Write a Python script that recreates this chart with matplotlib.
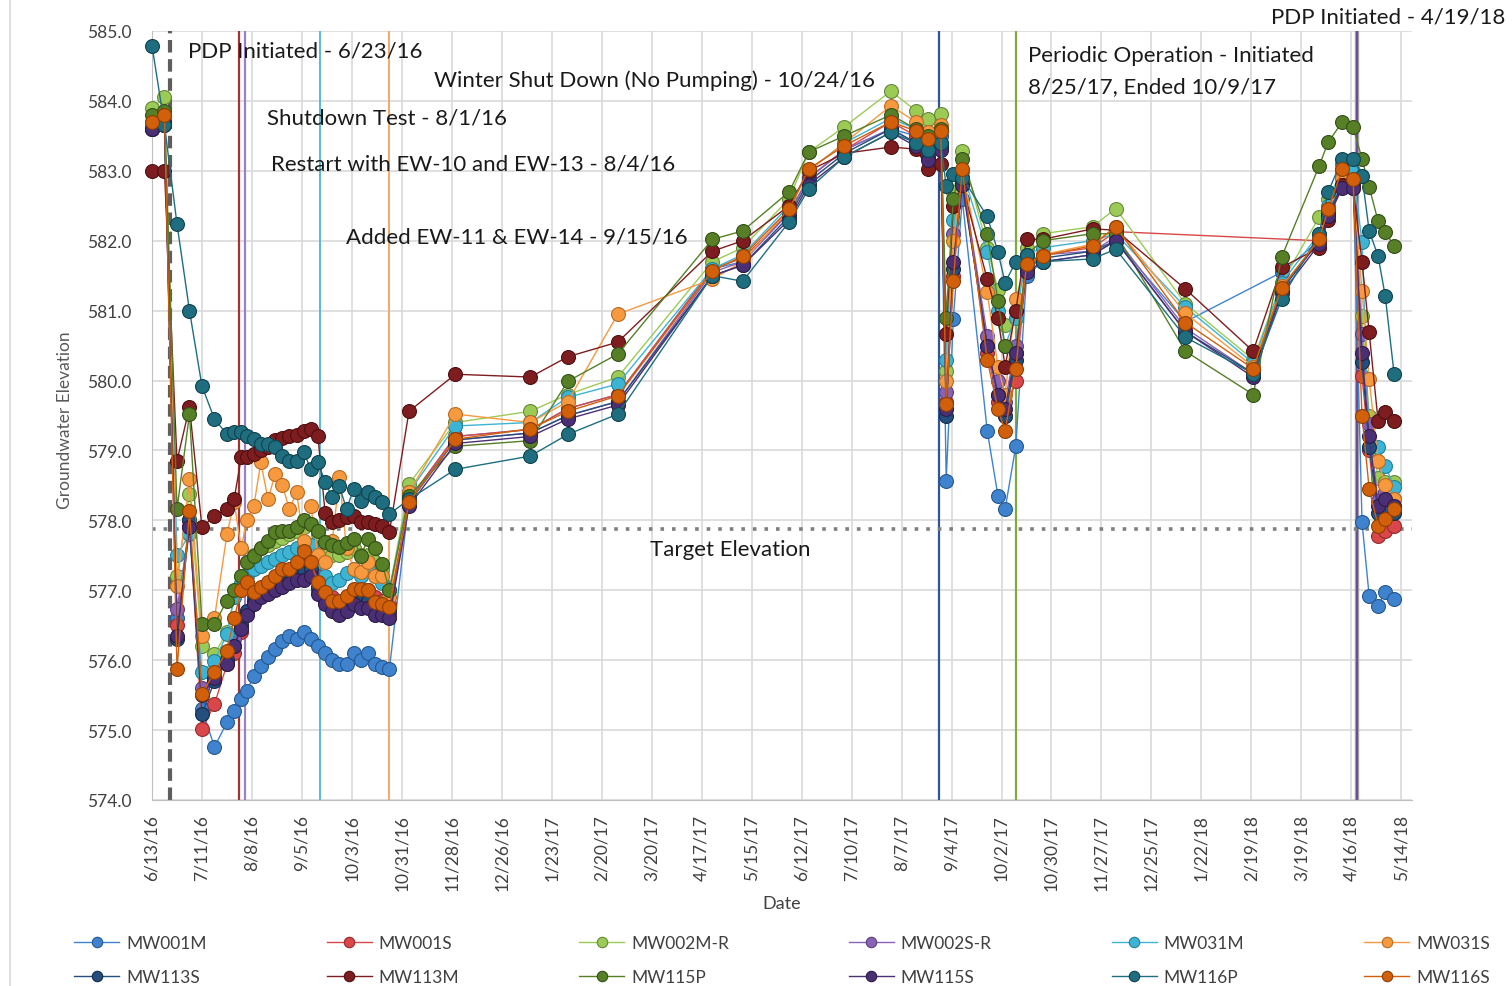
import numpy as np
import pandas as pd
import matplotlib
matplotlib.use("Agg")
import matplotlib.pyplot as plt
from matplotlib.lines import Line2D

nan = np.nan
plt.rcParams["font.family"] = ["Lato", "DejaVu Sans"]

# =====================================
# DATA
# =====================================

dates = pd.to_datetime([
    # summer / fall 2016
    "2016-06-13", "2016-06-20", "2016-06-27", "2016-07-04", "2016-07-11", "2016-07-18",
    "2016-07-25", "2016-07-29", "2016-08-02", "2016-08-05", "2016-08-09", "2016-08-13",
    "2016-08-17", "2016-08-21", "2016-08-25", "2016-08-29", "2016-09-02", "2016-09-06",
    "2016-09-10", "2016-09-14", "2016-09-18", "2016-09-22", "2016-09-26", "2016-09-30",
    "2016-10-04", "2016-10-08", "2016-10-12", "2016-10-16", "2016-10-20", "2016-10-24",
    # winter 2016 - summer 2017
    "2016-11-04", "2016-11-30", "2017-01-11", "2017-02-01", "2017-03-01", "2017-04-23",
    "2017-05-10", "2017-06-05", "2017-06-16", "2017-07-06", "2017-08-01", "2017-08-15",
    "2017-08-22", "2017-08-29",
    # periodic operation 2017
    "2017-09-01", "2017-09-05", "2017-09-10", "2017-09-24", "2017-09-30", "2017-10-04",
    "2017-10-10", "2017-10-16", "2017-10-25",
    # winter 2017-2018
    "2017-11-22", "2017-12-05", "2018-01-13", "2018-02-20", "2018-03-08",
    # spring 2018
    "2018-03-29", "2018-04-03", "2018-04-11", "2018-04-17", "2018-04-22", "2018-04-26",
    "2018-05-01", "2018-05-05", "2018-05-10",
])

mw001m = [
    583.6, 583.7, 576.6, 577.9, 575.3, 574.76, 575.11, 575.27, 575.45, 575.56, 575.77, 575.92,
    576.04, 576.16, 576.27, 576.35, 576.3, 576.4, 576.3, 576.2, 576.1, 576.0, 575.95, 575.95,
    576.1, 576.0, 576.1, 575.95, 575.9, 575.87,
    578.3, 579.2, 579.3, 579.6, 579.8, 581.6, 581.7, 582.4, 582.9, 583.3, 583.6, 583.5, 583.4, 583.5,
    578.57, 580.88, 582.6, 579.28, 578.35, 578.16, 579.06, 581.5, 581.7,
    581.8, 582.0, 580.84, nan, 581.55,
    582.0, 582.4, 582.9, 582.9, 577.97, 576.92, 576.78, 576.98, 576.88,
]
mw001s = [
    583.6, 583.7, 576.5, 578.0, 575.01, 575.37, 575.94, 576.1, 576.4, 576.7, 576.9, 577.0,
    577.05, 577.1, 577.2, 577.25, 577.3, 577.35, 577.4, 577.2, 577.0, 576.9, 576.85, 576.9,
    577.0, 577.0, 577.0, 576.9, 576.85, 576.8,
    578.3, 579.2, 579.3, 579.6, 579.8, 581.6, 581.75, 582.4, 582.9, 583.3, 583.7, 583.5, 583.3, 583.4,
    579.7, 581.5, 582.9, 580.4, 579.7, 579.5, 580.0, 581.6, 581.8,
    581.9, 582.13, nan, nan, nan,
    582.0, 582.4, 582.8, 582.8, 580.06, 579.0, 577.77, 577.85, 577.92,
]
mw002m_r = [
    583.9, 584.05, 577.2, 578.38, 576.2, 576.09, 576.4, 576.9, 577.2, 577.4, 577.5, 577.6,
    577.65, 577.7, 577.75, 577.8, 577.85, 577.9, 577.95, 577.8, 577.6, 577.5, 577.5, 577.55,
    577.6, 577.5, 577.5, 577.4, 577.3, 577.0,
    578.52, 579.4, 579.56, 579.8, 580.05, 581.7, 581.9, 582.6, 583.27, 583.63, 584.14, 583.86, 583.74, 583.81,
    580.14, 582.7, 583.28, 581.9, 581.3, 580.8, 581.0, 581.9, 582.1,
    582.2, 582.46, 581.1, 580.3, 581.4,
    582.34, 582.6, 583.0, 582.9, 580.93, 579.5, 578.6, 578.55, 578.55,
]
mw002s_r = [
    583.65, 583.7, 576.73, 577.9, 575.6, 575.8, 576.0, 576.3, 576.5, 576.7, 576.85, 576.95,
    577.0, 577.05, 577.1, 577.15, 577.2, 577.2, 577.25, 577.0, 576.85, 576.75, 576.7, 576.75,
    576.85, 576.8, 576.8, 576.7, 576.7, 576.65,
    578.3, 579.15, 579.25, 579.5, 579.7, 581.55, 581.7, 582.4, 582.9, 583.3, 583.6, 583.4, 583.2, 583.35,
    579.83, 582.1, 582.9, 580.64, 580.0, 579.7, 580.5, 581.6, 581.8,
    581.85, 582.05, 580.75, 580.1, 581.3,
    582.0, 582.4, 582.8, 582.8, 580.66, 579.38, 578.27, 578.4, 578.3,
]
mw031m = [
    583.6, 583.65, 577.5, 577.8, 575.83, 575.99, 576.37, 576.9, 577.1, 577.2, 577.3, 577.35,
    577.4, 577.45, 577.5, 577.55, 577.6, 577.6, 577.65, 577.4, 577.2, 577.1, 577.15, 577.25,
    577.3, 577.2, 577.3, 577.2, 577.1, 577.0,
    578.4, 579.35, 579.4, 579.76, 579.95, 581.6, 581.8, 582.5, 583.0, 583.4, 583.75, 583.6, 583.5, 583.6,
    580.3, 582.3, 583.0, 581.84, 581.0, 580.5, 580.9, 581.8, 581.9,
    582.0, 582.1, 581.05, 580.25, 581.4,
    582.1, 582.5, 583.1, 583.0, 581.98, 579.05, 579.05, 578.78, 578.48,
]
mw031s = [
    583.7, 583.75, 577.06, 578.59, 576.34, 576.6, 577.8, 578.26, 577.6, 578.0, 578.2, 578.83,
    578.3, 578.66, 578.5, 578.16, 578.4, 577.7, 578.2, 577.5, 577.4, 577.7, 578.62, 577.6,
    577.3, 577.26, 577.4, 577.2, 577.2, 576.9,
    578.4, 579.52, 579.4, 579.7, 580.95, 581.45, 581.7, 582.45, 583.0, 583.4, 583.93, 583.7, 583.55, 583.65,
    580.0, 582.0, 583.0, 581.26, 580.2, 579.8, 581.17, 581.7, 581.8,
    581.95, 582.2, 580.96, 580.2, 581.35,
    582.0, 582.45, 582.9, 582.8, 581.28, 580.02, 578.85, 578.5, 578.3,
]
mw113s = [
    583.6, 583.7, 576.3, 578.0, 575.23, 575.7, 576.0, 576.2, 576.5, 576.7, 576.85, 576.95,
    577.0, 577.05, 577.15, 577.2, 577.25, 577.25, 577.3, 577.05, 576.9, 576.8, 576.75, 576.8,
    576.9, 576.85, 576.85, 576.75, 576.7, 576.7,
    578.25, 579.15, 579.25, 579.5, 579.7, 581.5, 581.65, 582.35, 582.85, 583.25, 583.6, 583.4, 583.2, 583.35,
    579.5, 581.6, 582.85, 580.5, 579.8, 579.5, 580.3, 581.6, 581.75,
    581.85, 582.0, 580.7, 580.1, 581.3,
    582.0, 582.4, 582.8, 582.8, 580.26, 579.05, 578.1, 578.2, 578.1,
]
mw113m = [
    583.0, 583.0, 578.85, 579.62, 577.9, 578.06, 578.16, 578.3, 578.9, 578.9, 578.95, 579.0,
    579.05, 579.15, 579.18, 579.2, 579.22, 579.28, 579.3, 579.2, 578.1, 577.97, 578.0, 578.05,
    578.06, 577.97, 577.97, 577.95, 577.92, 577.83,
    579.56, 580.09, 580.05, 580.34, 580.55, 581.85, 582.0, 582.5, 583.0, 583.25, 583.34, 583.31, 583.03, 583.1,
    580.67, 582.5, 582.8, 581.45, 580.9, 580.2, 581.0, 582.02, 582.02,
    582.17, 582.15, 581.31, 580.42, 581.62,
    581.9, 582.3, 582.8, 582.75, 581.7, 580.69, 579.42, 579.55, 579.42,
]
mw115p = [
    583.8, 583.85, 578.16, 579.52, 576.52, 576.52, 576.85, 577.0, 577.2, 577.4, 577.49, 577.6,
    577.7, 577.83, 577.85, 577.85, 577.9, 578.0, 577.95, 577.85, 577.69, 577.65, 577.62, 577.68,
    577.73, 577.49, 577.73, 577.6, 577.38, 577.0,
    578.35, 579.06, 579.14, 579.99, 580.38, 582.02, 582.14, 582.7, 583.27, 583.5, 583.8, 583.6, 583.5, 583.6,
    580.9, 582.6, 583.17, 582.1, 581.14, 580.5, 580.4, 581.8, 582.0,
    582.1, 582.1, 580.42, 579.8, 581.77,
    583.07, 583.41, 583.7, 583.63, 583.17, 582.77, 582.28, 582.12, 581.93,
]
mw115s = [
    583.6, 583.65, 576.34, 577.9, 575.5, 575.75, 575.95, 576.2, 576.45, 576.65, 576.8, 576.9,
    576.95, 577.0, 577.05, 577.1, 577.15, 577.15, 577.2, 576.95, 576.8, 576.7, 576.65, 576.7,
    576.8, 576.75, 576.75, 576.65, 576.65, 576.6,
    578.2, 579.1, 579.2, 579.45, 579.65, 581.5, 581.65, 582.3, 582.8, 583.2, 583.55, 583.35, 583.15, 583.3,
    579.6, 581.7, 582.8, 580.5, 579.8, 579.6, 580.4, 581.55, 581.7,
    581.8, 582.0, 580.7, 580.05, 581.25,
    581.95, 582.35, 582.75, 582.75, 580.4, 579.2, 578.2, 578.3, 578.2,
]
mw116p = [
    584.79, 583.65, 582.24, 581.0, 579.92, 579.45, 579.23, 579.26, 579.26, 579.2, 579.16, 579.09,
    579.09, 579.05, 578.92, 578.85, 578.85, 578.98, 578.73, 578.83, 578.55, 578.33, 578.49, 578.16,
    578.45, 578.28, 578.4, 578.33, 578.26, 578.09,
    578.3, 578.73, 578.92, 579.23, 579.52, 581.5, 581.42, 582.27, 582.74, 583.2, 583.55, 583.4, 583.3, 583.4,
    582.78, 582.95, 582.9, 582.35, 581.84, 581.4, 581.7, 581.8, 581.7,
    581.74, 581.88, 580.62, 580.1, 581.17,
    582.1, 582.7, 583.17, 583.17, 582.93, 582.14, 581.78, 581.21, 580.09,
]
mw116s = [
    583.7, 583.8, 575.87, 578.13, 575.52, 575.83, 576.13, 576.6, 577.0, 577.12, 576.97, 577.05,
    577.12, 577.2, 577.3, 577.3, 577.4, 577.56, 577.4, 577.12, 576.97, 576.85, 576.85, 576.92,
    577.02, 577.02, 577.0, 576.83, 576.8, 576.76,
    578.26, 579.16, 579.31, 579.56, 579.78, 581.57, 581.78, 582.45, 583.03, 583.36, 583.7, 583.57, 583.45, 583.57,
    579.66, 581.42, 583.03, 580.3, 579.59, 579.28, 580.16, 581.67, 581.78,
    581.93, 582.2, 580.83, 580.17, 581.33,
    582.02, 582.45, 583.03, 582.88, 579.49, 578.45, 577.92, 578.02, 578.16,
]

wells = ["MW001M", "MW001S", "MW002M-R", "MW002S-R", "MW031M", "MW031S",
         "MW113S", "MW113M", "MW115P", "MW115S", "MW116P", "MW116S"]
levels = [mw001m, mw001s, mw002m_r, mw002s_r, mw031m, mw031s,
          mw113s, mw113m, mw115p, mw115s, mw116p, mw116s]
colors = ["#3F83CF", "#D9474A", "#9CCB55", "#8A62B5", "#3DB4D3", "#F6993F",
          "#234E7E", "#7E1D1F", "#567F26", "#4B2F75", "#1E6E80", "#D2600A"]
edges = ["#25588F", "#952A2C", "#66883A", "#5C3F7E", "#25809A", "#B76C25",
         "#122D4C", "#4E0F10", "#34501A", "#2D1B48", "#10424E", "#8C3F05"]

target_elev = 577.88

# =====================================
# CHART
# =====================================

fig = plt.figure(figsize=(15.12, 9.87), dpi=100)
ax = fig.add_axes([152 / 1512, 1 - 801 / 987, 1260 / 1512, 769 / 987])

# event lines
ax.axvline(pd.Timestamp("2016-06-23"), color="#5E5E5E", ls=(0, (3, 1.6)), lw=3, zorder=1.5)
ax.axvline(pd.Timestamp("2016-08-01"), color="#A23333", lw=1.6, zorder=1.5)
ax.axvline(pd.Timestamp("2016-08-04"), color="#9B80C2", lw=1.6, zorder=1.5)
ax.axvline(pd.Timestamp("2016-09-15"), color="#5CB9D0", lw=1.4, zorder=1.5)
ax.axvline(pd.Timestamp("2016-10-24"), color="#F4A867", lw=1.4, zorder=1.5)
ax.axvline(pd.Timestamp("2017-08-28"), color="#2F5597", lw=1.6, zorder=1.5)
ax.axvline(pd.Timestamp("2017-10-10"), color="#7FAA3C", lw=1.6, zorder=1.5)
ax.axvline(pd.Timestamp("2018-04-19"), color="#A9A9A9", lw=3.2, zorder=1.5)
ax.axvline(pd.Timestamp("2018-04-19"), color="#6A4F91", lw=1.6, zorder=1.55)

ax.axhline(target_elev, color="#7F7F7F", ls=(0, (1, 2.2)), lw=2.6, zorder=1.6)

handles = []
for name, vals, c, ec in zip(wells, levels, colors, edges):
    s = pd.Series(vals, index=dates).dropna()
    h, = ax.plot(s.index, s.values, "-o", color=c, mfc=c, mec=ec, mew=0.8,
                 ms=10, lw=1.0, label=name, clip_on=False, zorder=3)
    handles.append(h)

ax.set_xlim(pd.Timestamp("2016-06-13"), pd.Timestamp("2018-05-20"))
ax.set_ylim(574, 585)

ticks = pd.date_range("2016-06-13", periods=26, freq="28D")
ax.set_xticks(ticks)
ax.set_xticklabels([f"{d.month}/{d.day}/{d.year % 100}" for d in ticks],
                   rotation=90, fontsize=12.5, color="#404040")
ax.set_yticks(np.arange(574, 585.1, 1))
ax.set_yticklabels([f"{v:.1f}" for v in np.arange(574, 585.1, 1)],
                   fontsize=12.5, color="#404040")
ax.tick_params(axis="x", length=0, pad=10)
ax.tick_params(axis="y", length=0, pad=15)

ax.grid(True, color="#D9D9D9", lw=1.2)
ax.set_axisbelow(True)
for side in ["top", "right"]:
    ax.spines[side].set_visible(False)
for side in ["left", "bottom"]:
    ax.spines[side].set_color("#BFBFBF")

ax.set_xlabel("Date", fontsize=13, color="#404040", labelpad=4)
fig.text(65 / 1512, 1 - 420 / 987, "Groundwater Elevation", rotation=90,
         ha="center", va="center", fontsize=12.5, color="#595959")

# annotations
note = dict(fontsize=16, color="#1A1A1A", va="center", ha="left")
fig.text(188 / 1512, 1 - 52 / 987, "PDP Initiated - 6/23/16", **note)
fig.text(434 / 1512, 1 - 81 / 987, "Winter Shut Down (No Pumping) - 10/24/16", **note)
fig.text(267 / 1512, 1 - 119 / 987, "Shutdown Test - 8/1/16", **note)
fig.text(271 / 1512, 1 - 165 / 987, "Restart with EW-10 and EW-13 - 8/4/16", **note)
fig.text(346 / 1512, 1 - 238 / 987, "Added EW-11 & EW-14 - 9/15/16", **note)
fig.text(1028 / 1512, 1 - 56 / 987, "Periodic Operation - Initiated", **note)
fig.text(1028 / 1512, 1 - 87 / 987, "8/25/17, Ended 10/9/17", **note)
fig.text(1505 / 1512, 1 - 18 / 987, "PDP Initiated - 4/19/18",
         fontsize=16, color="#1A1A1A", va="center", ha="right")
fig.text(650 / 1512, 1 - 550 / 987, "Target Elevation", **note)

# legend: two rows of six
order = [0, 6, 1, 7, 2, 8, 3, 9, 4, 10, 5, 11]
fig.legend([handles[i] for i in order], [wells[i] for i in order],
           loc="upper left", bbox_to_anchor=(62 / 1512, 0, 1440 / 1512, 1 - 924 / 987),
           mode="expand", ncol=6, frameon=False, fontsize=12.5, markerscale=0.75,
           handlelength=2.6, handletextpad=0.4, labelspacing=1.05, borderpad=0.2,
           labelcolor="#404040")

fig.add_artist(Line2D([10 / 1512, 10 / 1512], [0, 1], color="#D9D9D9", lw=1.2))

plt.savefig("out.png", dpi=100)
plt.close()
